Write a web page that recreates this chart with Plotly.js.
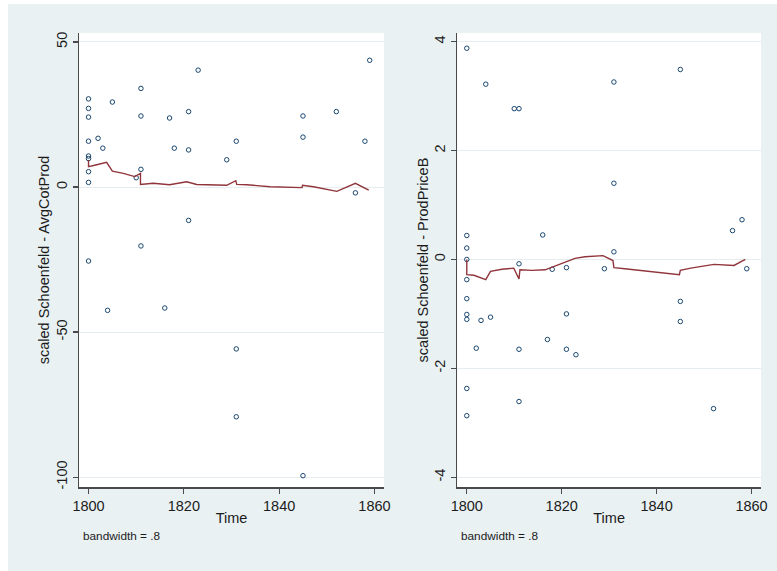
<!DOCTYPE html>
<html>
<head>
<meta charset="utf-8">
<script src="https://cdn.plot.ly/plotly-3.0.1.min.js"></script>
<style>
  html, body { margin: 0; padding: 0; background: #ffffff; width: 777px; height: 571px; overflow: hidden; }
  #chart { position: absolute; left: 8px; top: 4px; width: 769px; height: 567px; }
</style>
</head>
<body>
<div id="chart"></div>
<script>
// ---- Panel A: scaled Schoenfeld - AvgCotProd ----
const timeA = [1800, 1800, 1800, 1800, 1800, 1800, 1800, 1800, 1800,
  1802, 1803, 1804, 1805, 1810, 1811, 1811, 1811, 1811, 1816, 1817, 1818,
  1821, 1821, 1821, 1823, 1829, 1831, 1831, 1831, 1845, 1845, 1845, 1852, 1856, 1858, 1859];
const resA = [30.4, 27.1, 24.1, 15.8, 10.7, 9.8, 5.3, 1.6, -25.5,
  16.8, 13.4, -42.5, 29.3, 3.2, 34.0, 24.5, 6.1, -20.3, -41.7, 23.8, 13.4,
  26.0, 12.8, -11.5, 40.3, 9.4, 15.8, -55.8, -79.2, 24.5, 17.2, -99.5, 26.0, -2.0, 15.8, 43.7];
const smoothTimeA = [1800, 1800, 1801.5, 1803.8, 1805, 1807.3, 1809.7, 1810.9, 1810.9, 1813.6,
  1817, 1820.6, 1822.7, 1826.2, 1829, 1830.9, 1831.1, 1833.2, 1838.1, 1844.8, 1844.9, 1847.2,
  1852.1, 1856, 1858.8];
const smoothA = [9.3, 7.0, 7.6, 8.5, 5.5, 4.7, 3.6, 4.7, 0.9, 1.3,
  0.8, 1.8, 0.9, 0.6, 0.6, 2.2, 0.9, 0.8, 0.1, -0.2, 0.6, 0.1,
  -1.5, 1.3, -1.1];

// ---- Panel B: scaled Schoenfeld - ProdPriceB ----
const timeB = [1800, 1800, 1800, 1800, 1800, 1800, 1800, 1800, 1800, 1800,
  1802, 1803, 1804, 1805, 1810, 1811, 1811, 1811, 1811, 1816, 1817, 1818,
  1821, 1821, 1821, 1823, 1829, 1831, 1831, 1831, 1845, 1845, 1845, 1852, 1856, 1858, 1859];
const resB = [3.88, 0.44, 0.21, 0.0, -0.37, -0.72, -1.01, -1.10, -2.37, -2.87,
  -1.63, -1.12, 3.22, -1.06, 2.77, 2.77, -0.08, -1.65, -2.61, 0.45, -1.47, -0.18,
  -0.15, -1.00, -1.65, -1.75, -0.17, 3.26, 1.40, 0.14, 3.49, -0.77, -1.14, -2.74, 0.53, 0.73, -0.17];
const smoothTimeB = [1800, 1800, 1801.5, 1802.9, 1804, 1805, 1807.4, 1809.9, 1811.0, 1811.2,
  1813.7, 1816.5, 1819.3, 1821.4, 1822.8, 1824.9, 1827.7, 1828.7, 1830.8, 1831.0, 1833.3,
  1840.2, 1844.8, 1845.0, 1847.2, 1852.1, 1854.2, 1856.3, 1858.7];
const smoothB = [0.0, -0.28, -0.29, -0.34, -0.37, -0.22, -0.18, -0.16, -0.36, -0.19,
  -0.20, -0.19, -0.10, -0.02, 0.02, 0.05, 0.07, 0.07, -0.02, -0.15, -0.17,
  -0.23, -0.28, -0.20, -0.16, -0.09, -0.10, -0.11, 0.0];

const xTicks = [1800, 1820, 1840, 1860];
const yTicksA = [-100, -50, 0, 50];
const yTicksB = [-4, -2, 0, 2, 4];
const yTitleA = 'scaled Schoenfeld - AvgCotProd';
const yTitleB = 'scaled Schoenfeld - ProdPriceB';
const xTitle = 'Time';
const noteText = 'bandwidth = .8';

const W = 769, H = 567;
const FONT = 'Liberation Sans, Arial, sans-serif';
const TXT = '#1c1c1c';
const AX = '#4a4a4a';
const GRID = '#e5edf0';
const MARK = '#1a476f';
const LINE = '#90353b';

const markerStyle = { symbol: 'circle-open', size: 4.5, color: MARK, line: { width: 1, color: MARK } };

const traces = [
  { x: timeA, y: resA, type: 'scatter', mode: 'markers', marker: markerStyle, xaxis: 'x', yaxis: 'y', showlegend: false },
  { x: smoothTimeA, y: smoothA, type: 'scatter', mode: 'lines', line: { color: LINE, width: 1.4 }, xaxis: 'x', yaxis: 'y', showlegend: false },
  { x: timeB, y: resB, type: 'scatter', mode: 'markers', marker: markerStyle, xaxis: 'x2', yaxis: 'y2', showlegend: false },
  { x: smoothTimeB, y: smoothB, type: 'scatter', mode: 'lines', line: { color: LINE, width: 1.4 }, xaxis: 'x2', yaxis: 'y2', showlegend: false }
];

function xAxis(domain, anchor) {
  return {
    domain: domain, anchor: anchor, range: [1798, 1862],
    tickmode: 'array', tickvals: xTicks, ticktext: xTicks.map(String),
    showgrid: false, zeroline: false,
    showline: true, linecolor: AX, linewidth: 1.5,
    ticks: 'outside', ticklen: 5, tickwidth: 1.2, tickcolor: AX,
    tickfont: { family: FONT, size: 14.5, color: TXT },
    title: { text: xTitle, font: { family: FONT, size: 14.5, color: TXT }, standoff: 0 }
  };
}
function yAxis(domain, anchor, range, ticks, title) {
  return {
    domain: domain, anchor: anchor, range: range,
    tickmode: 'array', tickvals: ticks, ticktext: ticks.map(String),
    tickangle: -90,
    showgrid: true, gridcolor: GRID, gridwidth: 1, zeroline: false,
    showline: true, linecolor: AX, linewidth: 1.5,
    ticks: 'outside', ticklen: 5, tickwidth: 1.2, tickcolor: AX,
    tickfont: { family: FONT, size: 14.5, color: TXT },
    title: { text: title, font: { family: FONT, size: 14.5, color: TXT }, standoff: 0 }
  };
}

const yDom = [1 - 483 / H, 1 - 29 / H];
const layout = {
  width: W, height: H,
  margin: { l: 0, r: 0, t: 0, b: 0, pad: 0 },
  paper_bgcolor: '#e9f1f3',
  plot_bgcolor: '#ffffff',
  showlegend: false,
  xaxis: xAxis([71 / W, 376 / W], 'y'),
  yaxis: yAxis(yDom, 'x', [-103.4, 53.1], yTicksA, yTitleA),
  xaxis2: xAxis([449.3 / W, 753 / W], 'y2'),
  yaxis2: yAxis(yDom, 'x2', [-4.18, 4.16], yTicksB, yTitleB),
  annotations: [
    { text: noteText, xref: 'paper', yref: 'paper', x: 73 / W, y: 1 - 532 / H, xanchor: 'left', yanchor: 'middle', showarrow: false, font: { family: FONT, size: 11.8, color: TXT } },
    { text: noteText, xref: 'paper', yref: 'paper', x: 451 / W, y: 1 - 532 / H, xanchor: 'left', yanchor: 'middle', showarrow: false, font: { family: FONT, size: 11.8, color: TXT } }
  ]
};

Plotly.newPlot('chart', traces, layout, { displayModeBar: false, staticPlot: true });
</script>
</body>
</html>
